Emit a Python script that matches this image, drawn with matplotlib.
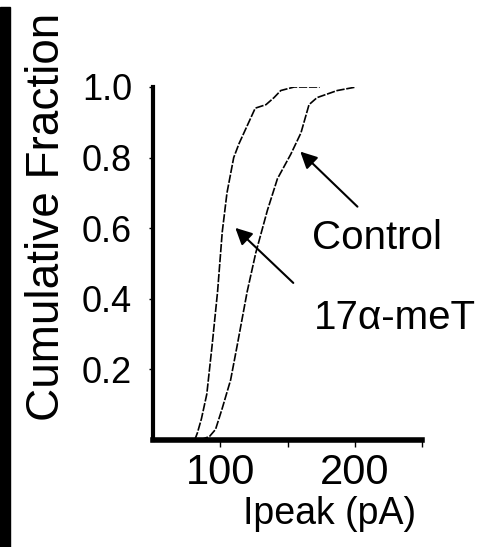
import matplotlib
matplotlib.use("Agg")
import matplotlib.pyplot as plt
from matplotlib.patches import Rectangle

plt.rcParams['font.family'] = ['Liberation Sans', 'DejaVu Sans']

# cumulative distributions
met_x = [81, 83, 86, 90, 94, 98, 101.5, 105, 110, 114, 120, 126, 134, 140, 145, 155, 174]
met_y = [0.0, 0.02, 0.06, 0.13, 0.27, 0.42, 0.59, 0.70, 0.80, 0.84, 0.89, 0.94, 0.95, 0.97, 0.99, 1.0, 1.0]
ctl_x = [85, 92, 96.5, 101.5, 107.7, 112.7, 120, 126.4, 135, 142.5, 152.5, 160, 166, 172, 187, 201]
ctl_y = [0.0, 0.01, 0.03, 0.09, 0.17, 0.27, 0.42, 0.53, 0.65, 0.74, 0.81, 0.87, 0.95, 0.97, 0.99, 1.0]

xticks = [100, 150, 200, 250]
xticklabels = ['100', '', '200', '']
yticks = [0.2, 0.4, 0.6, 0.8, 1.0]
yticklabels = ['0.2', '0.4', '0.6', '0.8', '1.0']

W, H = 493, 547
fig = plt.figure(figsize=(W / 100, H / 100), dpi=100)
ax = fig.add_axes([153 / W, 1 - 440 / H, (422 - 153) / W, (440 - 87) / H])

ls = (0, (5, 1))
ax.plot(met_x, met_y, color='black', lw=1.2, ls=ls)
ax.plot(ctl_x, ctl_y, color='black', lw=1.2, ls=ls)

ax.set_xlim(50, 250)
ax.set_ylim(0, 1.0)
for s in ['top', 'right']:
    ax.spines[s].set_visible(False)
ax.spines['left'].set_linewidth(3)
ax.spines['bottom'].set_linewidth(4)

ax.set_xticks(xticks, xticklabels)
ax.set_yticks(yticks, yticklabels)
ax.tick_params(axis='x', direction='out', length=5, width=1, pad=4, labelsize=30)
ax.tick_params(axis='y', direction='out', length=3, width=1, pad=12, labelsize=26)

# arrows + labels
aprops = dict(arrowstyle='-|>,head_length=1.0,head_width=0.5', color='black', lw=1.5,
              shrinkA=0, shrinkB=0)
ax.annotate('', xy=(159.5, 0.817), xytext=(202, 0.661), arrowprops=aprops)
ax.annotate('', xy=(111.2, 0.601), xytext=(154.3, 0.445), arrowprops=aprops)
ax.text(168.4, 0.573, 'Control', fontsize=29, ha='left', va='center', clip_on=False)
ax.text(169.9, 0.346, '17\u03b1-meT', fontsize=29, ha='left', va='center', clip_on=False)

fig.text(330 / W, 1 - 514 / H, 'Ipeak (pA)', fontsize=27, ha='center', va='center')
fig.text(47 / W, 1 - 217 / H, 'Cumulative Fraction', rotation=90, fontsize=33,
         ha='center', va='center')

# black strip at the left edge of the scan
fig.patches.append(Rectangle((0, 0), 10 / W, 1 - 7 / H, transform=fig.transFigure,
                             color='black', zorder=0))

fig.savefig('out.png', dpi=100)
